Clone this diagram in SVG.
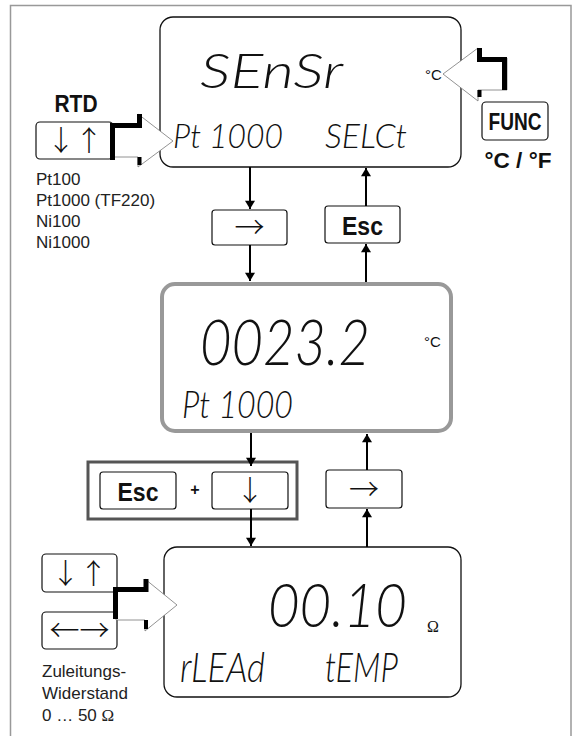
<svg xmlns="http://www.w3.org/2000/svg" width="573" height="736" viewBox="0 0 573 736">
<style>
.lcd{fill:#fff;stroke:#111;stroke-width:1.3}
.key{fill:#fff;stroke:#111;stroke-width:1.2}
.seg{font-family:Lato,"DejaVu Sans",sans-serif;font-style:italic;font-weight:300;fill:#111}
.unit{font-family:"Liberation Sans",Arial,sans-serif;font-size:15px;fill:#111}
.lbl{font-family:"Liberation Sans",Arial,sans-serif;font-size:17px;fill:#222}
.bold{font-family:"Liberation Sans",Arial,sans-serif;font-weight:bold;fill:#111}
.arw{font-family:"Noto Sans CJK JP","Noto Sans CJK SC","DejaVu Sans",sans-serif;font-weight:300;fill:#111}
.blk{fill:#fff;stroke:#777;stroke-width:0.8}
.shd{fill:none;stroke:#000;stroke-linejoin:miter}
.con{stroke:#000;stroke-width:2;fill:none}
</style>
<defs>
<marker id="ah2" viewBox="0 0 10 12" refX="10" refY="6" markerWidth="13" markerHeight="10" markerUnits="userSpaceOnUse" orient="auto">
<path d="M0,0 L10,6 L0,12 Z" fill="#000"/>
</marker>
</defs>
<rect x="10.5" y="5.5" width="560.5" height="740" fill="none" stroke="#999" stroke-width="1.5"/>

<g id="display-sensor">
<rect class="lcd" x="160" y="17" width="301" height="150" rx="13"/>
<text class="seg" x="200" y="88" font-size="48" textLength="143" lengthAdjust="spacingAndGlyphs">SEnSr</text>
<text class="unit" x="425" y="80">°C</text>
<text class="seg" x="173" y="148" font-size="34" textLength="110" lengthAdjust="spacingAndGlyphs">Pt 1000</text>
<text class="seg" x="325" y="148" font-size="34" textLength="82" lengthAdjust="spacingAndGlyphs">SELCt</text>
</g>

<g id="display-temp">
<rect x="162" y="284" width="289" height="147" rx="13" fill="#fff" stroke="#999" stroke-width="4"/>
<text class="seg" x="200" y="365" font-size="64" textLength="170" lengthAdjust="spacingAndGlyphs">0023.2</text>
<text class="unit" x="424" y="347">°C</text>
<text class="seg" x="182" y="418" font-size="37" textLength="111" lengthAdjust="spacingAndGlyphs">Pt 1000</text>
</g>

<g id="display-lead">
<rect class="lcd" x="164" y="547" width="297" height="150" rx="13"/>
<text class="seg" x="268" y="627" font-size="62" textLength="139" lengthAdjust="spacingAndGlyphs">00.10</text>
<text x="427" y="632" font-family="'Liberation Serif','Times New Roman',serif" font-size="16" fill="#111">Ω</text>
<text class="seg" x="180" y="682" font-size="41" textLength="85" lengthAdjust="spacingAndGlyphs">rLEAd</text>
<text class="seg" x="325" y="682" font-size="41" textLength="73" lengthAdjust="spacingAndGlyphs">tEMP</text>
</g>

<g id="rtd">
<text class="bold" x="76" y="112" font-size="24" text-anchor="middle" textLength="43" lengthAdjust="spacingAndGlyphs">RTD</text>
<rect class="key" x="36" y="122" width="77" height="37" rx="4"/>
<text class="arw" x="75" y="151" font-size="28" text-anchor="middle">↓↑</text>
<text class="lbl" x="36" y="185">Pt100</text>
<text class="lbl" x="36" y="206">Pt1000 (TF220)</text>
<text class="lbl" x="36" y="227">Ni100</text>
<text class="lbl" x="36" y="248">Ni1000</text>
</g>

<g id="arrow-rtd">
<polygon class="blk" points="113,125 138,125 138,114 173,141 138,167 138,157 113,157"/>
<path class="shd" stroke-width="5" d="M112.5,160 V125.5 H139.5 V114"/>
<path class="shd" stroke-width="4" d="M139.5,157 V165"/>
</g>

<g id="func">
<rect class="key" x="482" y="102" width="66" height="38" rx="4"/>
<text class="bold" x="515" y="130" font-size="24" text-anchor="middle" textLength="53" lengthAdjust="spacingAndGlyphs">FUNC</text>
<text class="bold" x="518" y="168" font-size="22" text-anchor="middle" textLength="67" lengthAdjust="spacingAndGlyphs">°C / °F</text>
</g>

<g id="arrow-func">
<polygon class="blk" points="507,58 478,58 478,48 443,74 478,101 478,90 507,90"/>
<path class="shd" stroke-width="5" d="M479.5,48 V59.5 H504.5 V90"/>
<path class="shd" stroke-width="4" d="M479.5,90 V97"/>
</g>

<g id="key-right-1">
<rect class="key" x="212" y="210" width="75" height="35" rx="3"/>
<text class="arw" x="249.5" y="238" font-size="30" text-anchor="middle">→</text>
</g>

<g id="key-esc-1">
<rect class="key" x="325" y="206" width="75" height="37" rx="3"/>
<text class="bold" x="362.5" y="235" font-size="26" text-anchor="middle" textLength="41" lengthAdjust="spacingAndGlyphs">Esc</text>
</g>

<g id="key-esc-down">
<rect x="88" y="462" width="209" height="57" fill="#fff" stroke="#555" stroke-width="3"/>
<rect class="key" x="100" y="472" width="76" height="37" rx="3"/>
<text class="bold" x="138" y="501" font-size="26" text-anchor="middle" textLength="41" lengthAdjust="spacingAndGlyphs">Esc</text>
<text class="bold" x="195" y="495" font-size="16" text-anchor="middle">+</text>
<rect class="key" x="212" y="472" width="76" height="37" rx="3"/>
<text class="arw" x="250" y="501" font-size="28" text-anchor="middle">↓</text>
</g>

<g id="key-right-2">
<rect class="key" x="326" y="470" width="76" height="38" rx="3"/>
<text class="arw" x="364" y="500" font-size="30" text-anchor="middle">→</text>
</g>

<g id="lead-keys">
<rect class="key" x="42" y="554" width="75" height="38" rx="4"/>
<text class="arw" x="79.5" y="584" font-size="28" text-anchor="middle">↓↑</text>
<rect class="key" x="42" y="612" width="75" height="37" rx="4"/>
<text class="arw" x="79.5" y="641" font-size="30" text-anchor="middle">←→</text>
<text class="lbl" x="42" y="677">Zuleitungs-</text>
<text class="lbl" x="42" y="699">Widerstand</text>
<text class="lbl" x="42" y="721">0 … 50 <tspan font-family="'Liberation Serif','Times New Roman',serif">Ω</tspan></text>
</g>

<g id="arrow-lead">
<polygon class="blk" points="116,589 145,589 145,579 177,605 145,631 145,620 116,620"/>
<path class="shd" stroke-width="5" d="M115.5,619 V589.5 H146 V579"/>
<path class="shd" stroke-width="4" d="M146,620 V629"/>
</g>

<g id="connectors">
<line class="con" x1="250" y1="167" x2="250" y2="209" marker-end="url(#ah2)"/>
<line class="con" x1="366" y1="206" x2="366" y2="168" marker-end="url(#ah2)"/>
<line class="con" x1="250" y1="245" x2="250" y2="281" marker-end="url(#ah2)"/>
<line class="con" x1="366" y1="282" x2="366" y2="244" marker-end="url(#ah2)"/>
<line class="con" x1="251" y1="433" x2="251" y2="466" marker-end="url(#ah2)"/>
<line class="con" x1="251" y1="509" x2="251" y2="546" marker-end="url(#ah2)"/>
<line class="con" x1="367" y1="547" x2="367" y2="509" marker-end="url(#ah2)"/>
<line class="con" x1="367" y1="470" x2="367" y2="434" marker-end="url(#ah2)"/>
</g>
</svg>
